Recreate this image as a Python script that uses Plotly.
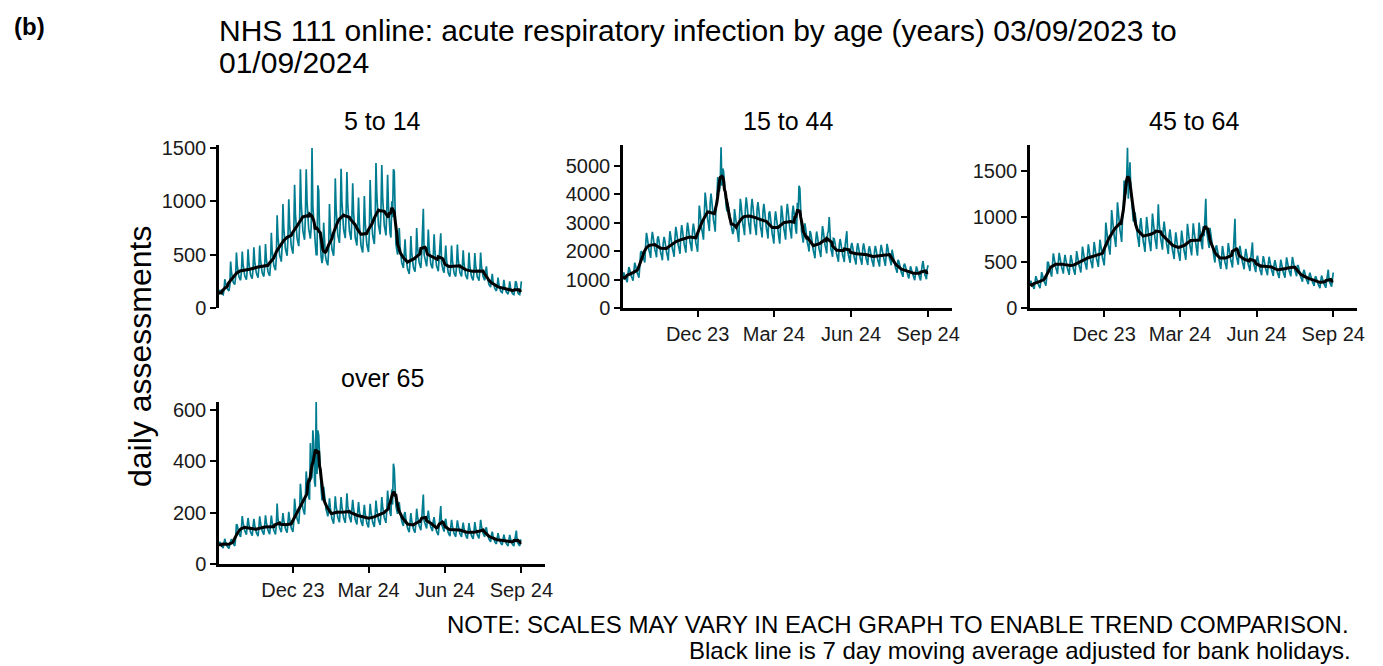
import pandas as pd
import plotly.graph_objects as go

W, H = 1383, 666
PAGE_OFFSET = 8  # the page body margin moves the figure by 8px
TEAL = "#007C91"
FONT = "Liberation Sans, Arial, sans-serif"

# daily assessments, 03/09/2023 (Sunday) to 01/09/2024, one row per week (Sun..Sat)
dates = pd.date_range("2023-09-03", "2024-09-01", freq="D")

age_5_14 = [
    125, 170, 145, 135, 130, 125, 165,
    270, 235, 200, 180, 170, 160, 210,
    435, 335, 275, 245, 230, 220, 290,
    520, 395, 330, 295, 275, 260, 345,
    530, 410, 335, 300, 285, 265, 355,
    550, 420, 345, 310, 290, 275, 365,
    570, 435, 360, 325, 305, 285, 380,
    585, 450, 370, 330, 310, 295, 390,
    600, 460, 380, 340, 320, 300, 400,
    705, 540, 445, 400, 375, 355, 470,
    870, 665, 550, 495, 465, 435, 580,
    975, 750, 620, 555, 520, 490, 650,
    1020, 780, 645, 580, 545, 510, 680,
    1155, 885, 730, 655, 615, 580, 770,
    1300, 980, 810, 725, 680, 640, 850,
    1300, 1000, 830, 740, 700, 650, 750,
    1500, 950, 800, 650, 600, 500, 500,
    1150, 1100, 760, 560, 480, 420, 470,
    800, 610, 500, 450, 425, 400, 530,
    975, 750, 620, 550, 520, 490, 650,
    1215, 930, 770, 690, 650, 610, 810,
    1305, 1000, 825, 740, 695, 655, 870,
    1275, 980, 810, 720, 680, 640, 850,
    1170, 900, 740, 660, 625, 585, 780,
    1035, 795, 655, 585, 550, 520, 690,
    1050, 805, 665, 595, 560, 525, 700,
    1200, 920, 760, 680, 640, 600, 800,
    1360, 1060, 875, 780, 735, 690, 920,
    1340, 1045, 865, 775, 730, 680, 910,
    1250, 960, 790, 700, 660, 1000, 850,
    1300, 1280, 700, 600, 550, 500, 550,
    750, 575, 475, 425, 400, 375, 500,
    645, 495, 410, 365, 345, 320, 430,
    675, 520, 430, 385, 360, 340, 450,
    750, 575, 475, 425, 400, 375, 500,
    800, 930, 500, 450, 420, 390, 500,
    735, 565, 465, 415, 390, 370, 490,
    690, 530, 435, 390, 370, 345, 460,
    660, 700, 420, 370, 350, 330, 420,
    585, 450, 370, 330, 310, 295, 390,
    585, 450, 370, 330, 310, 295, 390,
    595, 455, 375, 335, 315, 295, 395,
    540, 415, 340, 305, 290, 270, 360,
    520, 395, 330, 295, 275, 260, 345,
    515, 400, 325, 290, 280, 255, 345,
    520, 395, 330, 295, 275, 260, 345,
    390, 300, 245, 220, 210, 195, 260,
    320, 245, 205, 185, 170, 160, 215,
    285, 220, 180, 160, 150, 145, 190,
    265, 200, 165, 150, 140, 130, 175,
    250, 190, 155, 140, 130, 125, 165,
    250, 240, 155, 140, 130, 125, 165,
    250,
]

age_15_44 = [
    1000, 1250, 1130, 1040, 985, 905, 1230,
    1440, 1345, 1200, 1105, 1045, 960, 1310,
    1595, 1490, 1330, 1225, 1155, 1065, 1450,
    1950, 2000, 1880, 1760, 1700, 1600, 2200,
    2640, 2465, 2200, 2025, 1915, 1760, 2400,
    2675, 2500, 2230, 2050, 1940, 1785, 2430,
    2520, 2350, 2100, 1930, 1825, 1680, 2290,
    2500, 2360, 2090, 1940, 1830, 1670, 2280,
    2700, 2520, 2250, 2070, 1960, 1800, 2450,
    2855, 2665, 2380, 2190, 2070, 1905, 2595,
    2915, 2720, 2430, 2235, 2115, 1945, 2650,
    3000, 2800, 2500, 2300, 2175, 2000, 2725,
    2965, 2765, 2470, 2270, 2150, 1975, 2690,
    3600, 3360, 3000, 2760, 2610, 2400, 3270,
    4055, 3785, 3380, 3110, 2940, 2705, 3685,
    4020, 3750, 3350, 3080, 2915, 2680, 3650,
    3800, 4600, 4200, 4100, 4400, 5650, 4300,
    4900, 4800, 4300, 3900, 3600, 3400, 3700,
    3500, 3300, 3000, 2850, 2750, 2600, 2700,
    3480, 3250, 2900, 2670, 2525, 2320, 3160,
    3840, 3585, 3200, 2945, 2785, 2560, 3490,
    3890, 3630, 3240, 2980, 2820, 2590, 3530,
    3840, 3585, 3200, 2945, 2785, 2560, 3490,
    3720, 3470, 3100, 2850, 2700, 2480, 3380,
    3660, 3415, 3050, 2805, 2655, 2440, 3325,
    3395, 3170, 2830, 2605, 2460, 2265, 3085,
    3400, 3165, 2835, 2600, 2465, 2260, 3080,
    3600, 3360, 3000, 2760, 2610, 2400, 3270,
    3660, 3415, 3050, 2805, 2655, 2440, 3325,
    3600, 3360, 3000, 2760, 2610, 3700, 3400,
    4300, 4200, 3000, 2700, 2500, 2300, 2600,
    2975, 2780, 2480, 2280, 2160, 1985, 2705,
    2630, 2455, 2190, 2015, 1905, 1750, 2385,
    2690, 2510, 2240, 2060, 1950, 1790, 2440,
    2880, 2690, 2400, 2210, 2090, 1920, 2615,
    2700, 3200, 2250, 2070, 1960, 1800, 2450,
    2435, 2275, 2030, 1870, 1765, 1625, 2215,
    2425, 2260, 2020, 1860, 1755, 1615, 2200,
    2390, 2700, 1990, 1830, 1730, 1590, 2170,
    2290, 2140, 1910, 1755, 1660, 1530, 2080,
    2280, 2130, 1900, 1750, 1655, 1520, 2070,
    2270, 2115, 1890, 1740, 1645, 1510, 2060,
    2170, 2025, 1810, 1665, 1575, 1450, 1975,
    2185, 2040, 1820, 1675, 1585, 1455, 1985,
    2220, 2070, 1850, 1700, 1610, 1480, 2015,
    2255, 2105, 1880, 1730, 1635, 1505, 2050,
    1860, 1735, 1550, 1425, 1350, 1240, 1690,
    1645, 1535, 1370, 1260, 1190, 1095, 1495,
    1560, 1455, 1300, 1195, 1130, 1040, 1415,
    1465, 1365, 1220, 1120, 1060, 975, 1330,
    1460, 1360, 1215, 1120, 1055, 970, 1325,
    1525, 1650, 1270, 1170, 1105, 1015, 1385,
    1500,
]

age_45_64 = [
    250, 300, 265, 245, 230, 210, 280,
    350, 320, 280, 258, 240, 218, 294,
    394, 359, 315, 290, 271, 246, 331,
    500, 500, 440, 405, 380, 345, 470,
    600, 547, 480, 442, 413, 374, 504,
    606, 553, 485, 446, 417, 378, 509,
    584, 532, 467, 430, 402, 364, 490,
    580, 535, 465, 432, 400, 366, 492,
    625, 570, 500, 460, 430, 390, 525,
    675, 616, 540, 497, 464, 421, 567,
    700, 638, 560, 515, 482, 437, 588,
    725, 661, 580, 534, 499, 452, 609,
    750, 684, 600, 552, 516, 468, 630,
    938, 855, 750, 690, 645, 585, 788,
    1075, 980, 860, 791, 740, 671, 903,
    1160, 1060, 930, 855, 800, 725, 980,
    1050, 1400, 1300, 1250, 1400, 1760, 1200,
    1550, 1600, 1300, 1150, 1050, 950, 1000,
    1050, 980, 860, 790, 740, 670, 900,
    988, 901, 790, 727, 679, 616, 830,
    1000, 912, 800, 736, 688, 624, 840,
    1038, 946, 830, 764, 714, 647, 872,
    1140, 935, 820, 754, 705, 640, 861,
    950, 866, 760, 699, 654, 593, 798,
    863, 787, 690, 635, 593, 538, 725,
    831, 758, 665, 612, 572, 519, 698,
    850, 775, 680, 626, 585, 530, 714,
    925, 844, 740, 681, 636, 577, 777,
    930, 840, 745, 680, 640, 575, 775,
    938, 855, 750, 690, 645, 900, 788,
    1050, 1200, 850, 780, 730, 660, 880,
    800, 730, 640, 589, 550, 499, 672,
    688, 627, 550, 506, 473, 429, 578,
    681, 621, 545, 501, 469, 425, 572,
    713, 650, 570, 524, 490, 445, 599,
    760, 980, 600, 560, 525, 475, 640,
    681, 621, 545, 501, 469, 425, 572,
    650, 593, 520, 478, 447, 406, 546,
    631, 720, 505, 465, 434, 394, 530,
    575, 524, 460, 423, 396, 359, 483,
    570, 528, 458, 425, 394, 360, 485,
    563, 513, 450, 414, 387, 351, 473,
    525, 479, 420, 386, 361, 328, 441,
    531, 485, 425, 391, 366, 332, 446,
    556, 507, 445, 409, 383, 347, 467,
    560, 511, 448, 412, 385, 349, 470,
    463, 422, 370, 340, 318, 289, 389,
    419, 382, 335, 308, 288, 261, 352,
    388, 353, 310, 285, 267, 242, 326,
    350, 319, 280, 258, 241, 218, 294,
    356, 325, 285, 262, 245, 222, 299,
    375, 420, 300, 276, 258, 234, 315,
    390,
]

age_65_plus = [
    70, 87, 76, 70, 66, 62, 82,
    98, 84, 74, 68, 64, 60, 79,
    95, 97, 85, 78, 74, 70, 100,
    155, 150, 128, 118, 112, 105, 140,
    186, 160, 140, 129, 122, 114, 150,
    179, 155, 135, 124, 117, 110, 145,
    176, 151, 132, 122, 115, 108, 142,
    185, 159, 139, 128, 121, 114, 149,
    189, 162, 142, 131, 123, 116, 152,
    188, 163, 141, 130, 124, 115, 153,
    235, 174, 152, 140, 132, 124, 163,
    198, 170, 149, 137, 129, 122, 160,
    203, 175, 153, 140, 133, 125, 164,
    254, 218, 191, 176, 166, 156, 205,
    312, 269, 235, 216, 204, 192, 252,
    360, 320, 280, 260, 250, 470, 330,
    340, 520, 470, 320, 300, 630, 350,
    520, 500, 430, 330, 290, 250, 250,
    300, 260, 230, 210, 200, 185, 210,
    255, 220, 192, 176, 167, 157, 206,
    263, 226, 198, 182, 172, 162, 212,
    260, 224, 196, 180, 170, 160, 210,
    275, 227, 199, 183, 173, 162, 213,
    250, 215, 188, 173, 163, 154, 202,
    241, 207, 181, 167, 157, 148, 194,
    230, 198, 173, 159, 150, 142, 186,
    234, 202, 176, 162, 153, 144, 189,
    247, 213, 186, 171, 162, 152, 200,
    260, 224, 196, 180, 170, 160, 210,
    286, 246, 216, 198, 187, 290, 231,
    390, 370, 250, 225, 210, 195, 230,
    240, 207, 181, 167, 157, 148, 194,
    202, 174, 152, 140, 132, 124, 163,
    198, 170, 149, 137, 129, 122, 160,
    215, 185, 162, 149, 140, 132, 173,
    215, 270, 168, 155, 146, 138, 181,
    208, 179, 157, 144, 136, 128, 168,
    182, 157, 137, 126, 119, 112, 147,
    195, 225, 155, 142, 134, 126, 166,
    176, 151, 132, 122, 115, 108, 142,
    172, 148, 129, 119, 112, 106, 139,
    170, 150, 130, 118, 113, 105, 138,
    161, 139, 122, 112, 105, 99, 130,
    159, 137, 120, 110, 104, 98, 128,
    163, 140, 123, 113, 106, 100, 131,
    172, 148, 129, 119, 112, 106, 139,
    140, 121, 106, 97, 92, 86, 113,
    126, 109, 95, 87, 82, 78, 102,
    120, 103, 90, 83, 78, 74, 97,
    114, 99, 86, 79, 75, 70, 92,
    113, 97, 85, 78, 74, 70, 91,
    114, 130, 86, 79, 75, 70, 92,
    95,
]

panel_names = ["5 to 14", "15 to 44", "45 to 64", "over 65"]
panel_data = [age_5_14, age_15_44, age_45_64, age_65_plus]
y_max = [1528, 5730, 1790, 630]
y_step = [500, 1000, 500, 200]
tick_dates = ["2023-12-01", "2024-03-01", "2024-06-01", "2024-09-01"]
tick_text = ["Dec 23", "Mar 24", "Jun 24", "Sep 24"]

# panel boxes in screen pixels: (left, right, top, bottom)
boxes = [(219, 545, 145, 308), (623, 952, 145, 308), (1030, 1357, 145, 308), (219, 545, 402, 564)]


def px_x(x): return (x - PAGE_OFFSET) / W
def px_y(y): return 1 - (y - PAGE_OFFSET) / H


def add_text(fig, text, x, y, size, xanchor="left", angle=0):
    fig.add_annotation(text=text, x=px_x(x), y=px_y(y), xref="paper", yref="paper", showarrow=False,
                       xanchor=xanchor, yanchor="middle", textangle=angle,
                       font=dict(size=size, color="black", family=FONT))


fig = go.Figure()
for i, (name, vals) in enumerate(zip(panel_names, panel_data)):
    s = pd.Series(vals, index=dates)
    ma = s.rolling(7, center=True, min_periods=1).mean()
    sfx = "" if i == 0 else str(i + 1)
    fig.add_trace(go.Scatter(x=dates, y=s, mode="lines", line=dict(color=TEAL, width=1.7),
                             xaxis="x" + sfx, yaxis="y" + sfx, showlegend=False, name=name))
    fig.add_trace(go.Scatter(x=dates, y=ma, mode="lines", line=dict(color="black", width=3),
                             xaxis="x" + sfx, yaxis="y" + sfx, showlegend=False, name="7 day average"))

    l, r, t, b = boxes[i]
    show_x = i != 0
    fig.update_layout(**{
        f"xaxis{sfx}": dict(domain=[px_x(l), px_x(r)], anchor="y" + sfx, type="date",
                            range=["2023-09-03", "2024-09-29 12:00"],
                            tickvals=tick_dates, ticktext=tick_text,
                            showline=show_x, linecolor="black", linewidth=2.5,
                            ticks="outside" if show_x else "", ticklen=6, tickwidth=2, tickcolor="black",
                            showticklabels=show_x, showgrid=False, zeroline=False, automargin=False,
                            tickfont=dict(size=20, color="#1a1a1a")),
        f"yaxis{sfx}": dict(domain=[px_y(b), px_y(t)], anchor="x" + sfx, range=[0, y_max[i]],
                            dtick=y_step[i], tick0=0,
                            showline=True, linecolor="black", linewidth=2.5,
                            ticks="outside", ticklen=6, tickwidth=2, tickcolor="black",
                            showgrid=False, zeroline=False, automargin=False,
                            tickfont=dict(size=20, color="#1a1a1a")),
    })
    add_text(fig, name, (l + r) / 2, t - 24, 25, xanchor="center")

add_text(fig, "<b>(b)</b>", 12, 27, 24)
add_text(fig, "NHS 111 online: acute respiratory infection by age (years) 03/09/2023 to", 217, 31, 30)
add_text(fig, "01/09/2024", 217, 63, 30)
add_text(fig, "daily assessments", 140, 357, 32, xanchor="center", angle=-90)
add_text(fig, "NOTE: SCALES MAY VARY IN EACH GRAPH TO ENABLE TREND COMPARISON.", 1351, 624, 24, xanchor="right")
add_text(fig, "Black line is 7 day moving average adjusted for bank holidays.", 1353, 650, 24, xanchor="right")

fig.update_layout(width=W, height=H, margin=dict(l=0, r=0, t=0, b=0, autoexpand=False),
                  plot_bgcolor="white", paper_bgcolor="white",
                  font=dict(family=FONT, color="black"))

fig.write_html("out.html")
